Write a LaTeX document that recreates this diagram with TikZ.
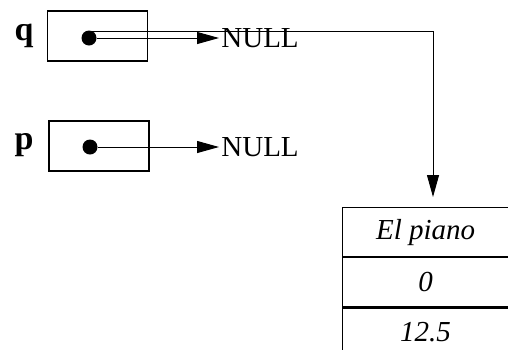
\documentclass[tikz,border=0pt]{standalone}
\usepackage{fontspec}
\setmainfont{Liberation Serif}
\usetikzlibrary{arrows.meta}
\tikzset{
  cell/.style={draw,line width=0.7pt,minimum width=50pt,minimum height=25pt,inner sep=0pt},
  field/.style={draw,line width=0.6pt,minimum width=83pt,minimum height=24.5pt,inner sep=0pt,
    font=\fontsize{14.5}{16}\selectfont\itshape},
  varname/.style={font=\fontsize{17}{19}\selectfont\bfseries},
  dot/.style={circle,fill,inner sep=0pt,minimum size=7.5pt},
  ptr/.style={line width=0.5pt,-{Triangle[length=11pt,width=6pt]}}
}
\begin{document}
\begin{tikzpicture}[x=0.5pt,y=-0.5pt,font=\fontsize{14.5}{16}\selectfont]
\useasboundingbox (0,0) rectangle (508,349);
% the two pointer variables
\node[varname] (qname) at (24,36) {q};
\node[cell] (qbox) at (97.5,36) {};
\node[dot] (qdot) at (89,38) {};
\node[anchor=west,inner sep=1pt] (qnull) at (219,38) {NULL};
\draw[ptr] (qdot) -- (qnull);
\node[varname] (pname) at (24,145) {p};
\node[cell] (pbox) at (99,146) {};
\node[dot] (pdot) at (90,147) {};
\node[anchor=west,inner sep=1pt] (pnull) at (219,147) {NULL};
\draw[ptr] (pdot) -- (pnull);
% the record
\node[field,anchor=north west] (name) at (342,207) {El piano};
\node[field,anchor=north] (num) at (name.south) {0};
\node[field,anchor=north] (price) at (num.south) {12.5};
\coordinate (turn) at (433,31);
\draw[ptr,shorten >=5pt] (qdot |- turn) -- (turn) -- (turn |- name.north);
\end{tikzpicture}
\end{document}
